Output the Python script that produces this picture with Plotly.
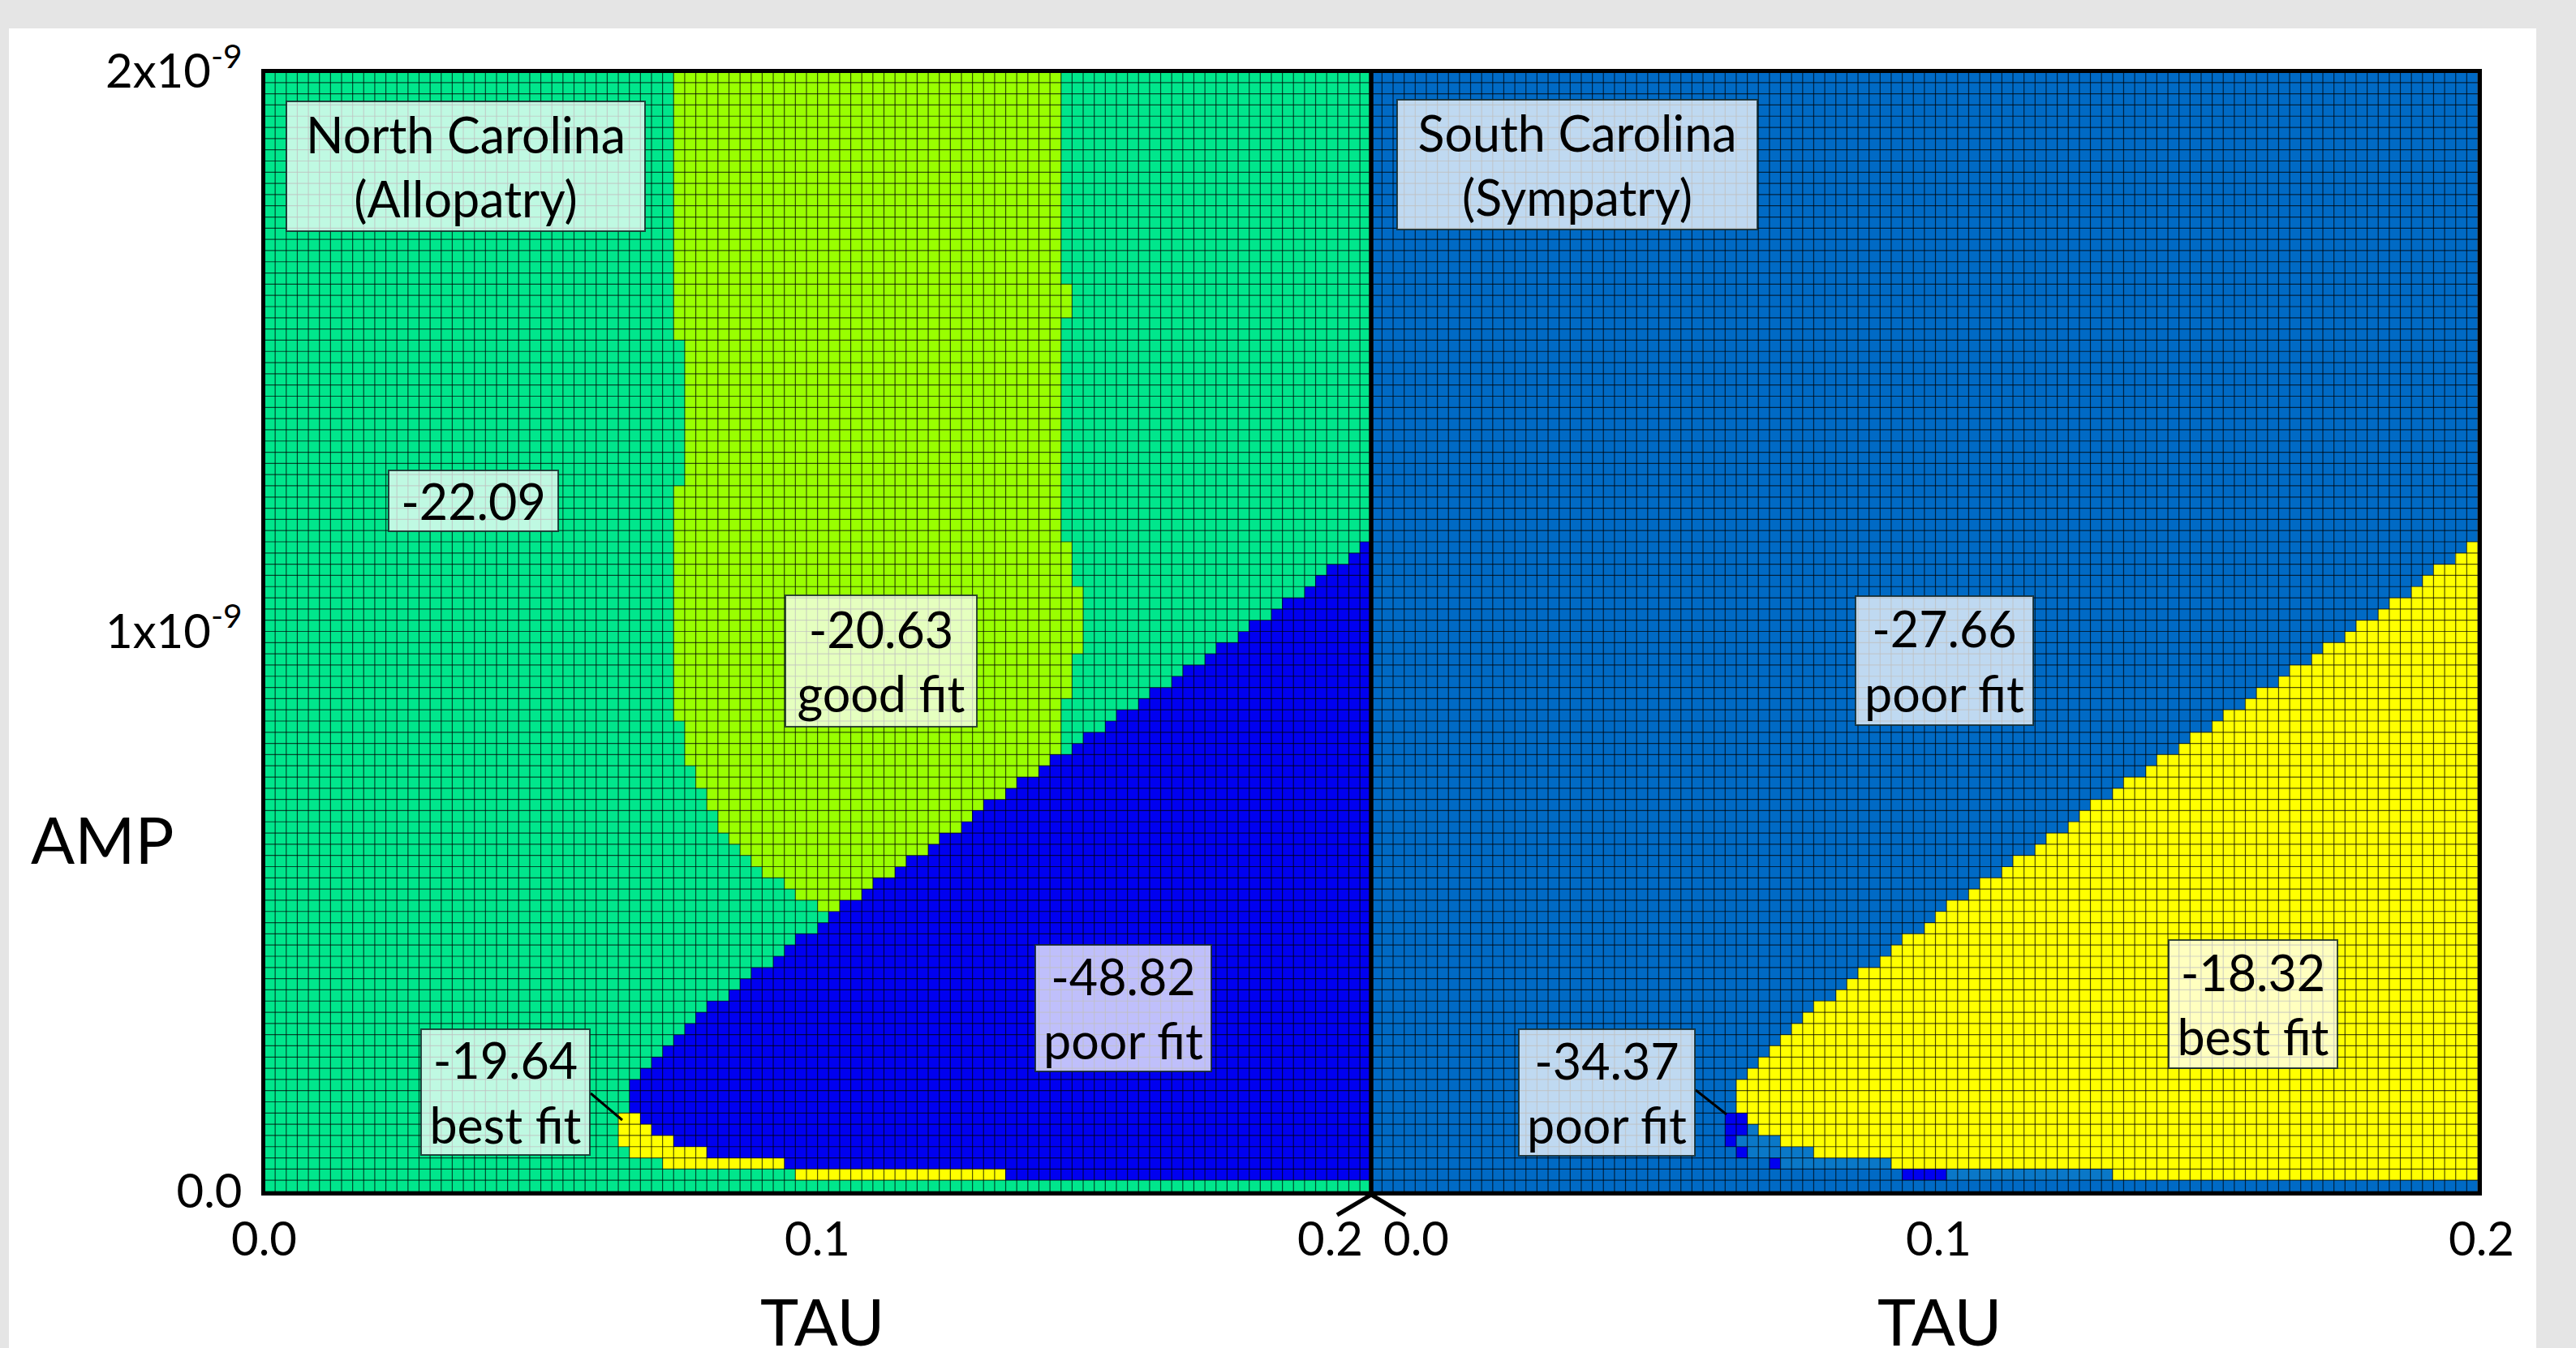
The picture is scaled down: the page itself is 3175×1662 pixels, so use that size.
import plotly.graph_objects as go

W, H = 3175, 1662
NCOL, NROW = 100, 100
TAU_MAX, AMP_MAX = 0.2, 2e-9

# ---------------- data: categories and colours ----------------
# 0 = -22.09 (NC background), 1 = -20.63 good fit, 2 = -48.82 / -34.37 poor fit (blue),
# 3 = -19.64 / -18.32 best fit (yellow), 4 = -27.66 poor fit (SC background), 5 = SC light steel
cat_colors = ["#00E68C", "#99FF00", "#0000F0", "#FFFF00", "#006AC5", "#0A78C8"]

# North Carolina (Allopatry) -- region boundaries read per row (row 0 = AMP 0)
nc_lime_row0 = 25
nc_lime_start = [50, 48, 47, 45, 44, 43, 42, 41, 41, 40, 40, 39, 39, 38, 38, 38, 38] + [37] * 21 + [38] * 13 + [37] * 24
nc_lime_end = [71] * 19 + [72] * 4 + [73] * 6 + [72] * 4 + [71] * 20 + [72] * 3 + [71] * 19
nc_blue_row0 = 1
nc_blue_start = [67, 47, 40, 37, 35, 34, 33, 33, 33, 34, 35, 36, 37, 38, 39, 40,
                 42, 43, 44, 46, 47, 48, 50, 51, 52, 54, 55, 57, 58, 60, 61, 63, 64, 65, 67, 68,
                 70, 71, 73, 74, 76, 77, 79, 80, 82, 83, 85, 86, 88, 89, 91, 92, 94, 95, 96, 98, 99]
nc_yellow_row0 = 1
nc_yellow_start = [48, 36, 33, 32, 32, 32]
nc_yellow_end = [66, 46, 39, 36, 34, 33]

# South Carolina (Sympatry)
sc_yellow_row0 = 1
sc_yellow_start = [67, 47, 40, 37, 35, 34, 33, 33, 33, 34, 35, 36, 37, 38, 39, 40,
                   42, 43, 44, 46, 47, 48, 50, 51, 52, 54, 55, 57, 58, 60, 61, 63, 64, 65, 67, 68,
                   70, 71, 73, 74, 76, 77, 79, 80, 82, 83, 85, 86, 88, 89, 91, 92, 94, 95, 96, 98, 99]
sc_dark_row0 = 1
sc_dark_start = [48, 36, 33, 32, 32, 32]
sc_dark_end = [51, 36, 33, 32, 33, 33]
sc_light_row0 = 1
sc_light_start = [52, 37, 34, 33, 34]
sc_light_end = [66, 46, 39, 36, 34]

x_tick_vals = [0.0, 0.1, 0.2]
x_tick_text = ["0.0", "0.1", "0.2"]
y_tick_vals = [0.0, 1e-9, 2e-9]
y_tick_text = ["0.0", "1x10<sup>-9</sup>", "2x10<sup>-9</sup>"]

FONT = "Lato"

# ---------------- build grids ----------------
def blank(code):
    return [[code] * NCOL for _ in range(NROW)]

def fill(grid, row, c0, c1, code):
    for c in range(c0, c1 + 1):
        grid[row][c] = code

nc = blank(0)
for i, (s, e) in enumerate(zip(nc_lime_start, nc_lime_end)):
    fill(nc, nc_lime_row0 + i, s, e, 1)
for i, s in enumerate(nc_blue_start):
    fill(nc, nc_blue_row0 + i, s, NCOL - 1, 2)
for i, (s, e) in enumerate(zip(nc_yellow_start, nc_yellow_end)):
    fill(nc, nc_yellow_row0 + i, s, e, 3)

sc = blank(4)
for i, s in enumerate(sc_yellow_start):
    fill(sc, sc_yellow_row0 + i, s, NCOL - 1, 3)
for i, (s, e) in enumerate(zip(sc_dark_start, sc_dark_end)):
    fill(sc, sc_dark_row0 + i, s, e, 2)
for i, (s, e) in enumerate(zip(sc_light_start, sc_light_end)):
    fill(sc, sc_light_row0 + i, s, e, 5)

n = len(cat_colors)
cscale = []
for i, col in enumerate(cat_colors):
    cscale.append([i / n, col])
    cscale.append([(i + 1) / n, col])

xc = [(c + 0.5) * TAU_MAX / NCOL for c in range(NCOL)]
yc = [(r + 0.5) * AMP_MAX / NROW for r in range(NROW)]

gx, gy = [], []
for k in range(NCOL + 1):
    v = k * TAU_MAX / NCOL
    gx += [v, v, None]
    gy += [0, AMP_MAX, None]
for k in range(NROW + 1):
    v = k * AMP_MAX / NROW
    gx += [0, TAU_MAX, None]
    gy += [v, v, None]

fig = go.Figure()
for grid, xa, ya in [(nc, "x", "y"), (sc, "x2", "y2")]:
    fig.add_trace(go.Heatmap(z=grid, x=xc, y=yc, colorscale=cscale, zmin=-0.5, zmax=n - 0.5,
                             showscale=False, xaxis=xa, yaxis=ya, hoverinfo="skip"))
    fig.add_trace(go.Scatter(x=gx, y=gy, mode="lines", xaxis=xa, yaxis=ya, hoverinfo="skip",
                             line=dict(color="rgba(0,0,0,0.68)", width=1.2), showlegend=False))

def px(x):
    return x / W

def py(y):
    return 1 - y / H

XL = (325.5, 1689.75)
XR = (1689.75, 3054.0)
YT, YB = 88.0, 1469.0

ax_common = dict(showgrid=False, zeroline=False, showline=False, ticks="", showticklabels=False,
                 automargin=False)
fig.update_layout(
    template="none",
    width=W, height=H, margin=dict(l=0, r=0, t=0, b=0, pad=0, autoexpand=False),
    paper_bgcolor="#E5E5E5", plot_bgcolor="white", showlegend=False,
    font=dict(family=FONT, color="black"),
    xaxis=dict(domain=[px(XL[0]), px(XL[1])], range=[0, TAU_MAX], anchor="y", **ax_common),
    xaxis2=dict(domain=[px(XR[0]), px(XR[1])], range=[0, TAU_MAX], anchor="y2", **ax_common),
    yaxis=dict(domain=[py(YB), py(YT)], range=[0, AMP_MAX], anchor="x", showgrid=False, zeroline=False,
               showline=False, ticks="", tickvals=y_tick_vals, ticktext=y_tick_text, automargin=False,
               tickfont=dict(size=58, family=FONT), ticklabelstandoff=26),
    yaxis2=dict(domain=[py(YB), py(YT)], range=[0, AMP_MAX], anchor="x2", **ax_common),
)

shapes = [
    dict(type="rect", xref="paper", yref="paper", x0=px(11), x1=px(3126), y0=py(1700), y1=py(35),
         fillcolor="white", line=dict(width=0), layer="below"),
    dict(type="rect", xref="paper", yref="paper", x0=px(324.5), x1=px(1690), y0=py(1471.5), y1=py(87.5),
         line=dict(color="black", width=5)),
    dict(type="rect", xref="paper", yref="paper", x0=px(1690), x1=px(3056.5), y0=py(1471.5), y1=py(87.5),
         line=dict(color="black", width=5)),
    # broken-axis mark
    dict(type="line", xref="paper", yref="paper", x0=px(1690), y0=py(1473), x1=px(1648), y1=py(1498),
         line=dict(color="black", width=5)),
    dict(type="line", xref="paper", yref="paper", x0=px(1690), y0=py(1473), x1=px(1732), y1=py(1498),
         line=dict(color="black", width=5)),
    # pointers
    dict(type="line", xref="paper", yref="paper", x0=px(728), y0=py(1348), x1=px(767), y1=py(1381),
         line=dict(color="black", width=3)),
    dict(type="line", xref="paper", yref="paper", x0=px(2090), y0=py(1344), x1=px(2128), y1=py(1374),
         line=dict(color="black", width=3)),
]
fig.update_layout(shapes=shapes)

annots = []
boxes = [
    ("North Carolina<br>(Allopatry)", 574, 205, 444, 162),
    ("-22.09", 583.5, 617.5, 211, 77),
    ("-20.63<br>good fit", 1086, 815, 238, 164),
    ("-48.82<br>poor fit", 1384.5, 1243, 219, 158),
    ("-19.64<br>best fit", 623, 1346.5, 210, 157),
    ("South Carolina<br>(Sympatry)", 1944, 203, 446, 162),
    ("-27.66<br>poor fit", 2396, 815, 221, 161),
    ("-18.32<br>best fit", 2776.7, 1238, 210, 160),
    ("-34.37<br>poor fit", 1980.5, 1347, 219, 158),
]
for txt, cx, cy, w, h in boxes:
    annots.append(dict(text=txt, xref="paper", yref="paper", x=px(cx), y=py(cy), xanchor="center",
                       yanchor="middle", showarrow=False, width=w - 4, height=h - 4, align="center",
                       valign="middle", bgcolor="rgba(255,255,255,0.75)", bordercolor="rgba(20,40,40,0.85)",
                       borderwidth=2, borderpad=0, font=dict(size=61, family=FONT, color="black")))

left_shift = [0, 0, -50]
right_shift = [56, 18, 4]
for xa, shifts in [("x", left_shift), ("x2", right_shift)]:
    for v, t, s in zip(x_tick_vals, x_tick_text, shifts):
        annots.append(dict(text=t, xref=xa, yref="paper", x=v, y=py(1525), xshift=s, xanchor="center",
                           yanchor="middle", showarrow=False, font=dict(size=58, family=FONT)))

annots.append(dict(text="AMP", xref="paper", yref="paper", x=px(126), y=py(1034), xanchor="center",
                   yanchor="middle", showarrow=False, font=dict(size=80, family=FONT)))
for cx in (1013, 2390):
    annots.append(dict(text="TAU", xref="paper", yref="paper", x=px(cx), y=py(1628), xanchor="center",
                       yanchor="middle", showarrow=False, font=dict(size=80, family=FONT)))
fig.update_layout(annotations=annots)

fig.write_html("out.html", config={"displayModeBar": False},
               post_script="document.body.style.margin='0px';")
